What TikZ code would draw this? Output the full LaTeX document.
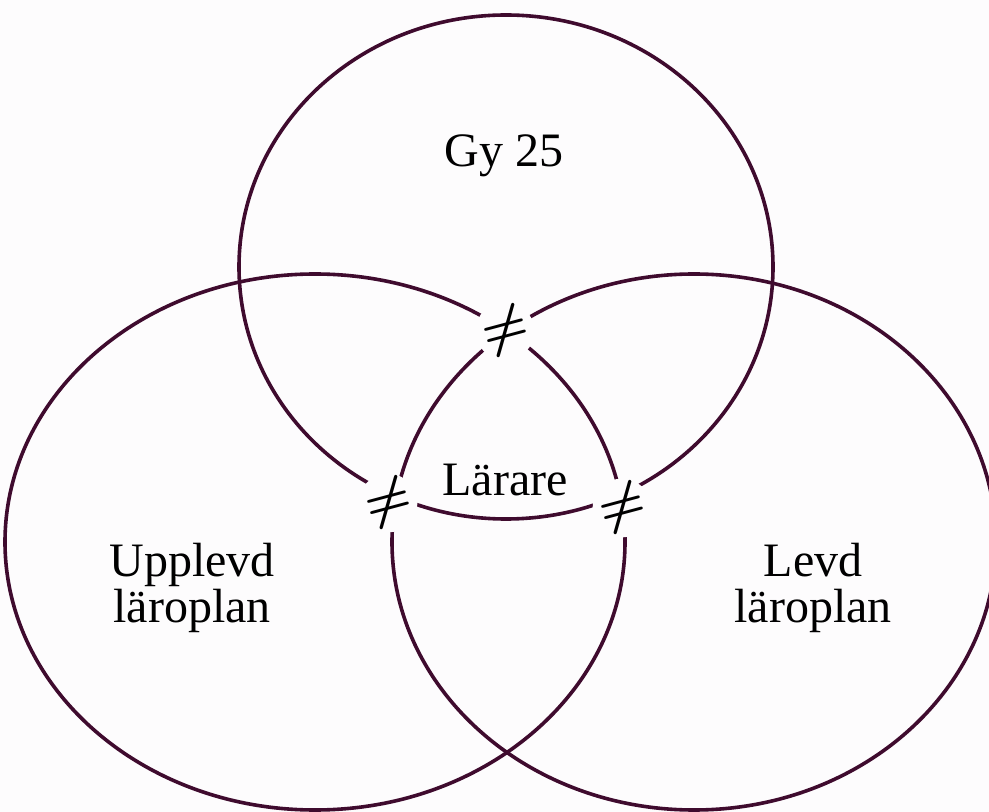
\documentclass[tikz,border=0pt]{standalone}
\usepackage{fontspec}
\setmainfont{Liberation Serif}
\definecolor{ring}{HTML}{3F0B2E}
\definecolor{bg}{HTML}{FDFCFD}
\begin{document}
\begin{tikzpicture}[x=0.75pt,y=-0.75pt,
  ringline/.style={draw=ring,line width=2.7pt},
  gapnode/.style={circle,fill=bg,minimum size=44pt,inner sep=0pt},
  neqsign/.style={font=\fontsize{24}{24}\selectfont\boldmath,rotate=15,scale=1.6,inner sep=0pt},
  lbl/.style={font=\fontsize{36}{34}\selectfont,align=center,inner sep=0pt}]
\fill[bg] (0,0) rectangle (989,812);
\useasboundingbox (0,0) rectangle (989,812);
\draw[ringline] (506,267) ellipse [x radius=267, y radius=252];
\draw[ringline] (315,542) ellipse [x radius=310, y radius=268];
\draw[ringline] (694,542) ellipse [x radius=302, y radius=268];
\node[gapnode] (g1) at (505,331) {};
\node[gapnode] (g2) at (388,503) {};
\node[gapnode] (g3) at (622,508) {};
\node[neqsign] (n1) at (g1) {$\neq$};
\node[neqsign] (n2) at (g2) {$\neq$};
\node[neqsign] (n3) at (g3) {$\neq$};
\node[lbl] (gy) at (504,156) {Gy 25};
\node[lbl] (lar) at (505,480) {Lärare};
\node[lbl] (upp) at (192,588) {Upplevd\\läroplan};
\node[lbl] (levd) at (813,588) {Levd\\läroplan};
\end{tikzpicture}
\end{document}
